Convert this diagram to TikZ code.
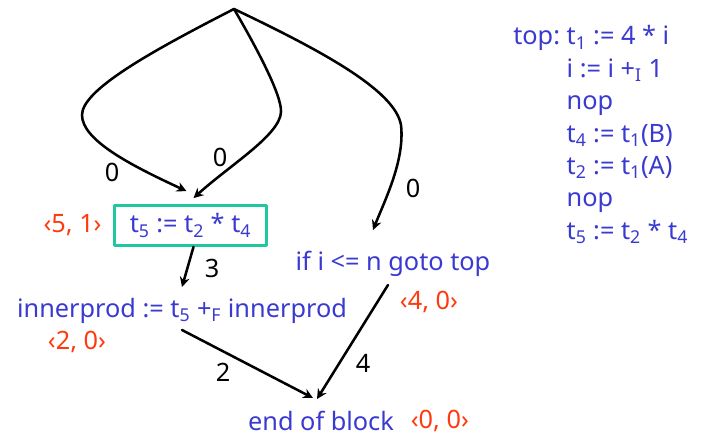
\documentclass[tikz,border=0pt]{standalone}
\usepackage{fontspec}
\setmainfont{Noto Sans}
\usetikzlibrary{arrows.meta,positioning,calc}
\definecolor{codeblue}{HTML}{3A3AD0}
\definecolor{rankred}{HTML}{FF3A10}
\definecolor{boxgreen}{HTML}{20C8A0}
\tikzset{
  every picture/.style={font=\fontsize{18}{23}\selectfont, line join=round, line cap=round, >=Stealth},
  stmt/.style={text=codeblue, inner sep=1pt},
  stmtbox/.style={stmt, draw=boxgreen, line width=2pt, minimum width=3.8cm, minimum height=1cm},
  rank/.style={text=rankred, inner sep=0pt},
  wt/.style={inner sep=0pt},
  dep/.style={-{Stealth[length=7pt,width=7pt]}, line width=1.8pt},
}
\begin{document}
\begin{tikzpicture}[x=0.025cm,y=-0.025cm]
\useasboundingbox (0,0) rectangle (705,439);
\coordinate (top) at (234,9);
\node[stmtbox] (mul) at (190.5,225.5) {t\textsubscript{5} := t\textsubscript{2} * t\textsubscript{4}};
\node[stmt] (acc) at (182,311) {innerprod := t\textsubscript{5} +\textsubscript{F} innerprod};
\node[stmt] (cond) at (393,264) {if i <= n goto top};
\node[stmt] (eob) at (321,421) {end of block};
\node[rank, left=0.28cm of mul] (rmul) {‹5, 1›};
\node[rank] (racc) at (77,342) {‹2, 0›};
\node[rank] (rcond) at (429,302) {‹4, 0›};
\node[rank, right=0.375cm of eob] (reob) {‹0, 0›};
\node[stmt, inner sep=0pt, anchor=base west] (code) at (513,45) {\begin{tabular}[t]{@{}l@{\ }l@{}}
top: & t\textsubscript{1} := 4 * i\\
 & i := i +\textsubscript{I} 1\\
 & nop\\
 & t\textsubscript{4} := t\textsubscript{1}(B)\\
 & t\textsubscript{2} := t\textsubscript{1}(A)\\
 & nop\\
 & t\textsubscript{5} := t\textsubscript{2} * t\textsubscript{4}
\end{tabular}};
\draw[dep] (top) .. controls (150,52) and (82,90) .. (82,115) .. controls (82,140) and (130,165) .. ($(mul.north)+(-4,-13)$);
\draw[dep] (top) .. controls (255,45) and (282,95) .. (281,112) .. controls (280,135) and (230,165) .. ($(mul.north)+(3,-6)$);
\draw[dep] (top) .. controls (320,50) and (395,90) .. (401,125) .. controls (405,160) and (385,200) .. ($(cond.center)+(-20,-34)$);
\draw[dep] ($(mul.south)+(3,0)$) -- ($(acc.center)+(0,-24)$);
\draw[dep] ($(acc.center)+(0,19)$) -- ($(eob.center)+(-8,-23)$);
\draw[dep] ($(cond.center)+(-5,21)$) -- ($(eob.center)+(-4,-22)$);
\node[wt] (w1) at (112,172) {0};
\node[wt] (w2) at (220,157) {0};
\node[wt] (w3) at (413,188) {0};
\node[wt] (w4) at (212,268) {3};
\node[wt] (w5) at (223,372) {2};
\node[wt] (w6) at (363,363) {4};
\end{tikzpicture}
\end{document}
